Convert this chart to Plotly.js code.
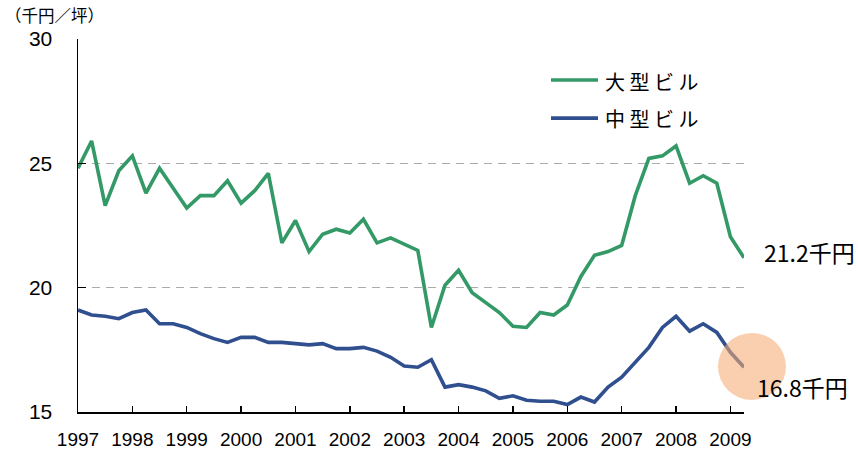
<!DOCTYPE html>
<html>
<head>
<meta charset="utf-8">
<script src="https://cdn.plot.ly/plotly-3.0.1.min.js"></script>
<style>html,body{margin:0;padding:0;background:#fff;}#chart{width:858px;height:452px;}</style>
</head>
<body>
<div id="chart"></div>
<script>
// Quarter positions (year + quarter fraction)
const quarters = [
  1997.00,1997.25,1997.50,1997.75,
  1998.00,1998.25,1998.50,1998.75,
  1999.00,1999.25,1999.50,1999.75,
  2000.00,2000.25,2000.50,2000.75,
  2001.00,2001.25,2001.50,2001.75,
  2002.00,2002.25,2002.50,2002.75,
  2003.00,2003.25,2003.50,2003.75,
  2004.00,2004.25,2004.50,2004.75,
  2005.00,2005.25,2005.50,2005.75,
  2006.00,2006.25,2006.50,2006.75,
  2007.00,2007.25,2007.50,2007.75,
  2008.00,2008.25,2008.50,2008.75,
  2009.00,2009.25
];

// 大型ビル (千円/坪)
const largeBldg = [
  24.8,25.9,23.3,24.7,
  25.3,23.8,24.8,24.0,
  23.2,23.7,23.7,24.3,
  23.4,23.9,24.6,21.8,
  22.7,21.45,22.15,22.35,
  22.2,22.75,21.8,22.0,
  21.75,21.5,18.4,20.1,
  20.7,19.8,19.4,19.0,
  18.45,18.4,19.0,18.9,
  19.3,20.45,21.3,21.45,
  21.7,23.7,25.2,25.3,
  25.7,24.2,24.5,24.2,
  22.05,21.2
];

// 中型ビル (千円/坪)
const midBldg = [
  19.1,18.9,18.85,18.75,
  19.0,19.1,18.55,18.55,
  18.4,18.15,17.95,17.8,
  18.0,18.0,17.8,17.8,
  17.75,17.7,17.75,17.55,
  17.55,17.6,17.45,17.2,
  16.85,16.8,17.1,16.0,
  16.1,16.0,15.85,15.55,
  15.65,15.47,15.43,15.43,
  15.3,15.6,15.4,16.0,
  16.4,17.0,17.6,18.4,
  18.85,18.25,18.55,18.2,
  17.4,16.8
];

const seriesNames = ["大型ビル","中型ビル"];
const yearTicks = [1997,1998,1999,2000,2001,2002,2003,2004,2005,2006,2007,2008,2009];
const yTicks = [15,20,25,30];
const unitLabel = "（千円／坪）";

const GREEN = "#339966";
const BLUE = "#2f4f8e";
const JP = "'Noto Sans CJK JP', 'Noto Sans', sans-serif";
const SANS = "'Liberation Sans', Arial, sans-serif";

const traces = [
  {x: quarters, y: largeBldg, name: seriesNames[0], type: "scatter", mode: "lines",
   line: {color: GREEN, width: 3.6}, hoverinfo: "skip"},
  {x: quarters, y: midBldg, name: seriesNames[1], type: "scatter", mode: "lines",
   line: {color: BLUE, width: 3.6}, hoverinfo: "skip"}
];

const lastL = largeBldg[largeBldg.length-1];
const lastM = midBldg[midBldg.length-1];

const layout = {
  width: 858, height: 452,
  margin: {l: 78, r: 114, t: 39, b: 40, pad: 0},
  paper_bgcolor: "#fff", plot_bgcolor: "#fff",
  showlegend: false,
  xaxis: {
    range: [quarters[0], quarters[quarters.length-1]],
    tickvals: yearTicks, ticktext: yearTicks.map(String),
    ticks: "inside", ticklen: 6, tickwidth: 1.5, tickcolor: "#000",
    showline: true, linecolor: "#000", linewidth: 1.5,
    showgrid: false, zeroline: false,
    tickfont: {family: SANS, size: 19, color: "#000"},
    ticklabelstandoff: 10
  },
  yaxis: {
    range: [15, 30],
    tickvals: yTicks, ticktext: yTicks.map(String),
    ticks: "inside", ticklen: 8, tickwidth: 1.5, tickcolor: "#000",
    showline: true, linecolor: "#000", linewidth: 1.5,
    showgrid: true, gridcolor: "#ababab", gridwidth: 1.2, griddash: "8px,6px",
    zeroline: false,
    tickfont: {family: SANS, size: 21, color: "#000"},
    ticklabelstandoff: 20
  },
  shapes: [
    {type: "line", xref: "paper", yref: "paper", x0: 0.7102, x1: 0.7808, y0: 0.890, y1: 0.890,
     line: {color: GREEN, width: 3.6}},
    {type: "line", xref: "paper", yref: "paper", x0: 0.7102, x1: 0.7808, y0: 0.788, y1: 0.788,
     line: {color: BLUE, width: 3.6}},
    {type: "circle", xref: "paper", yref: "paper", xsizemode: "pixel", ysizemode: "pixel",
     xanchor: 1.012, yanchor: 0.122, x0: -34, x1: 34, y0: -33.5, y1: 33.5,
     fillcolor: "rgba(247,172,118,0.58)", line: {width: 0}, layer: "above"}
  ],
  annotations: [
    {xref: "paper", yref: "paper", x: 0.788, y: 0.8855, xanchor: "left", yanchor: "middle",
     text: seriesNames[0].split("").join(" "), showarrow: false,
     font: {family: JP, size: 20, color: "#000"}},
    {xref: "paper", yref: "paper", x: 0.788, y: 0.7874, xanchor: "left", yanchor: "middle",
     text: seriesNames[1].split("").join(" "), showarrow: false,
     font: {family: JP, size: 20, color: "#000"}},
    {xref: "paper", yref: "paper", x: 1.0266, y: 0.4298, xanchor: "left", yanchor: "middle",
     text: lastL.toFixed(1) + "千円", showarrow: false,
     font: {family: JP, size: 23, color: "#000"}},
    {xref: "paper", yref: "paper", x: 1.0165, y: 0.0678, xanchor: "left", yanchor: "middle",
     text: lastM.toFixed(1) + "千円", showarrow: false,
     font: {family: JP, size: 23, color: "#000"}},
    {xref: "paper", yref: "paper", x: -0.112, y: 1.0645, xanchor: "left", yanchor: "middle",
     text: unitLabel, showarrow: false,
     font: {family: JP, size: 16.5, color: "#000"}}
  ]
};

Plotly.newPlot("chart", traces, layout, {staticPlot: true, displayModeBar: false});
</script>
</body>
</html>
